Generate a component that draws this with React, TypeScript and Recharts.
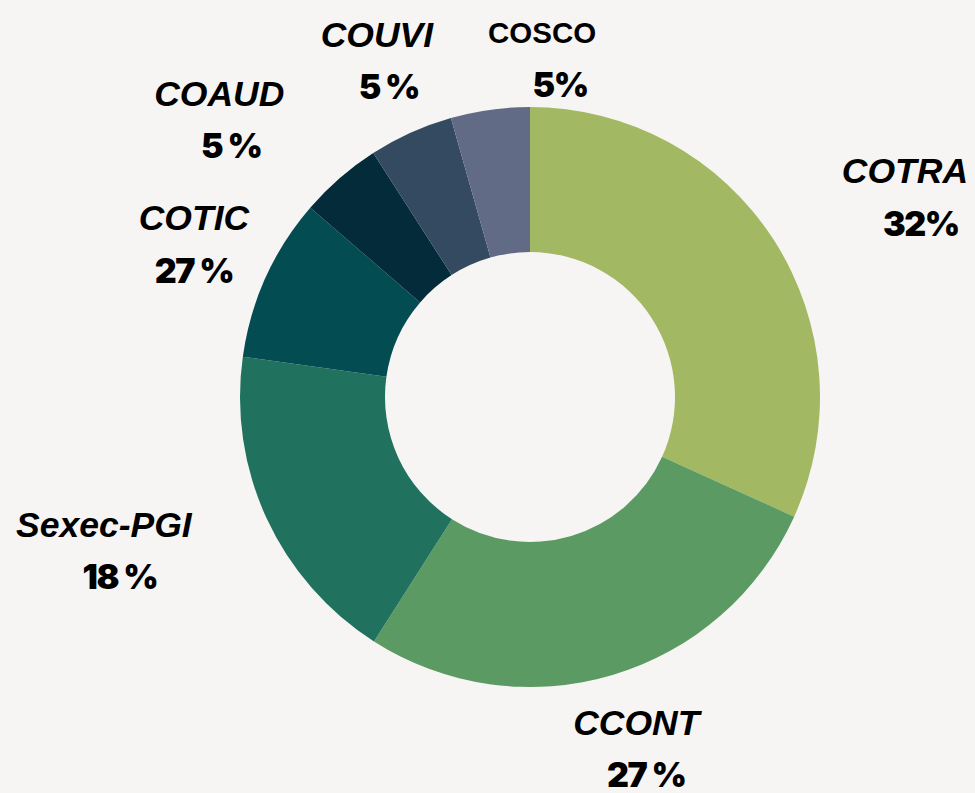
import { PieChart, Pie, Cell } from "recharts";

const categories = ["COTRA", "CCONT", "Sexec-PGI", "COTIC", "COAUD", "COUVI", "COSCO"];
const shares = [31.8, 27.3, 18.2, 9.1, 4.6, 4.7, 4.4];
const pctLabels = ["32%", "27 %", "18 %", "27 %", "5 %", "5 %", "5%"];

const COLORS = ["#a3b862", "#5b9a62", "#20725f", "#034d52", "#032b3a", "#334a60", "#616b86"];
// label nudges from the mid-angle anchor, title/percent horizontal split, italic titles
const NUDGE: [number, number][] = [[72, 1], [6, -3], [-82, -1], [1, 0], [-62, 2], [5, 1], [72, 28]];
const SPLIT = [8, 5, 8, 0, 6, 6, 9];
const ITALIC = [true, true, true, true, true, true, false];

const RAD = Math.PI / 180;
const data = categories.map((name, i) => ({ name, value: shares[i], pct: pctLabels[i] }));

function SliceLabel(props: any) {
  const { cx, cy, midAngle, outerRadius, index } = props;
  const r = outerRadius + 80;
  const x = cx + r * Math.cos(-midAngle * RAD) + NUDGE[index][0];
  const y = cy + r * Math.sin(-midAngle * RAD) + NUDGE[index][1];
  const italic = ITALIC[index];
  const s = SPLIT[index];
  return (
    <g>
      <text x={x - s} y={y - 26} textAnchor="middle" dominantBaseline="central"
        fontFamily="'Liberation Sans', Arial, sans-serif" fontWeight={700}
        fontStyle={italic ? "italic" : "normal"} fontSize={italic ? 35.5 : 29.5} fill="#000">
        {categories[index]}
      </text>
      <text x={x + s} y={y + 26} textAnchor="middle" dominantBaseline="central"
        fontFamily="Inter, 'DejaVu Sans', sans-serif" fontWeight={900}
        fontSize={34} letterSpacing={-1.5} fill="#000">
        {pctLabels[index]}
      </text>
    </g>
  );
}

export default function App() {
  return (
    <div style={{ position: "absolute", left: 0, top: 0, width: 975, height: 793, background: "#f6f5f3" }}>
      <PieChart width={975} height={793} margin={{ top: 0, right: 0, bottom: 0, left: 0 }}>
        <Pie
          data={data}
          dataKey="value"
          nameKey="name"
          cx={530}
          cy={397}
          innerRadius={145}
          outerRadius={290}
          startAngle={90}
          endAngle={-270}
          stroke="none"
          label={SliceLabel}
          labelLine={false}
          isAnimationActive={false}
        >
          {data.map((d, i) => (
            <Cell key={d.name} fill={COLORS[i]} />
          ))}
        </Pie>
      </PieChart>
    </div>
  );
}
